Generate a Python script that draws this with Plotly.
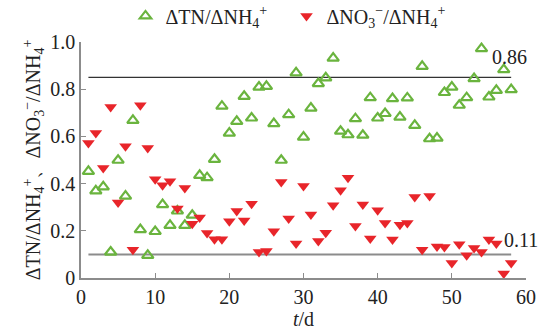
import plotly.graph_objects as go

days = list(range(1, 59))
tn_ratio = [0.452, 0.369, 0.386, 0.110, 0.499, 0.347, 0.668, 0.205, 0.096, 0.197,
            0.311, 0.223, 0.284, 0.223, 0.266, 0.435, 0.425, 0.503, 0.728, 0.614,
            0.664, 0.770, 0.678, 0.809, 0.812, 0.654, 0.499, 0.692, 0.869, 0.597,
            0.720, 0.824, 0.848, 0.932, 0.622, 0.607, 0.675, 0.605, 0.764, 0.678,
            0.697, 0.760, 0.682, 0.763, 0.647, 0.897, 0.590, 0.593, 0.786, 0.809,
            0.732, 0.764, 0.845, 0.972, 0.767, 0.795, 0.883, 0.798]
no3_ratio = [0.572, 0.614, 0.466, 0.725, 0.320, 0.558, 0.120, 0.732, 0.551, 0.418,
             0.393, 0.410, 0.294, 0.381, 0.230, 0.256, 0.191, 0.164, 0.164, 0.240,
             0.284, 0.244, 0.315, 0.110, 0.114, 0.198, 0.407, 0.252, 0.146, 0.390,
             0.269, 0.157, 0.192, 0.308, 0.372, 0.425, 0.220, 0.311, 0.167, 0.287,
             0.233, 0.163, 0.226, 0.233, 0.343, 0.120, 0.347, 0.134, 0.131, 0.064,
             0.143, 0.096, 0.127, 0.110, 0.163, 0.146, 0.019, 0.064]

ref_x = [1, 58]
ref_tn = 0.85
ref_no3 = 0.10
ref_tn_label = "0.86"
ref_no3_label = "0.11"

x_ticks = [0, 10, 20, 30, 40, 50, 60]
y_ticks = [0, 0.2, 0.4, 0.6, 0.8, 1.0]
y_tick_text = ["0", "0.2", "0.4", "0.6", "0.8", "1.0"]

FONT = "Liberation Serif"
GREEN = "#6ab43e"
RED = "#e8252a"
TXT = "#222222"

fig = go.Figure()

fig.add_trace(go.Scatter(x=ref_x, y=[ref_tn, ref_tn], mode="lines",
                         line=dict(color="#333333", width=1.2), showlegend=False,
                         hoverinfo="skip"))
fig.add_trace(go.Scatter(x=ref_x, y=[ref_no3, ref_no3], mode="lines",
                         line=dict(color="#8c8c8c", width=2), showlegend=False,
                         hoverinfo="skip"))

fig.add_trace(go.Scatter(
    x=days, y=tn_ratio, mode="markers",
    name="ΔTN/ΔNH<sub>4</sub><sup>+</sup>",
    marker=dict(symbol="triangle-up-open", size=10, color=GREEN,
                line=dict(width=2.2, color=GREEN)),
))
fig.add_trace(go.Scatter(
    x=days, y=no3_ratio, mode="markers",
    name="ΔNO<sub>3</sub><sup>−</sup>/ΔNH<sub>4</sub><sup>+</sup>",
    marker=dict(symbol="triangle-down", size=11, color=RED),
))

fig.add_annotation(x=55.2, y=ref_tn + 0.085, text=ref_tn_label, showarrow=False,
                   xanchor="left", yanchor="middle",
                   font=dict(family=FONT, size=20, color=TXT))
fig.add_annotation(x=56.8, y=ref_no3 + 0.06, text=ref_no3_label, showarrow=False,
                   xanchor="left", yanchor="middle",
                   font=dict(family=FONT, size=20, color=TXT))

axis_common = dict(showline=True, linecolor="#8c8c8c", linewidth=1.5,
                   ticks="inside", ticklen=5, tickcolor="#8c8c8c", tickwidth=1.2,
                   showgrid=False, zeroline=False, automargin=False,
                   tickfont=dict(family=FONT, size=20, color=TXT))

fig.update_layout(
    width=542, height=333,
    margin=dict(l=81, r=16, t=42, b=55, autoexpand=False),
    paper_bgcolor="white", plot_bgcolor="white",
    font=dict(family=FONT, size=20, color=TXT),
    xaxis=dict(range=[0, 60], tickvals=x_ticks, **axis_common,
               title=dict(text="<i>t</i>/d", standoff=0,
                          font=dict(family=FONT, size=20, color=TXT))),
    yaxis=dict(range=[0, 1.0], tickvals=y_ticks, ticktext=y_tick_text, **axis_common,
               title=dict(text="ΔTN/ΔNH<sub>4</sub><sup>+</sup>、ΔNO<sub>3</sub><sup>−</sup>/ΔNH<sub>4</sub><sup>+</sup>",
                          standoff=4,
                          font=dict(family=FONT, size=20, color=TXT))),
    legend=dict(orientation="h", x=0.1, y=1.193, xanchor="left", yanchor="top",
                bgcolor="rgba(0,0,0,0)", font=dict(family=FONT, size=20, color=TXT),
                itemwidth=30, tracegroupgap=0, entrywidth=116, entrywidthmode="pixels"),
    showlegend=True,
)

fig.write_html("out.html", config={"displayModeBar": False},
               post_script="document.body.style.margin='0';")
